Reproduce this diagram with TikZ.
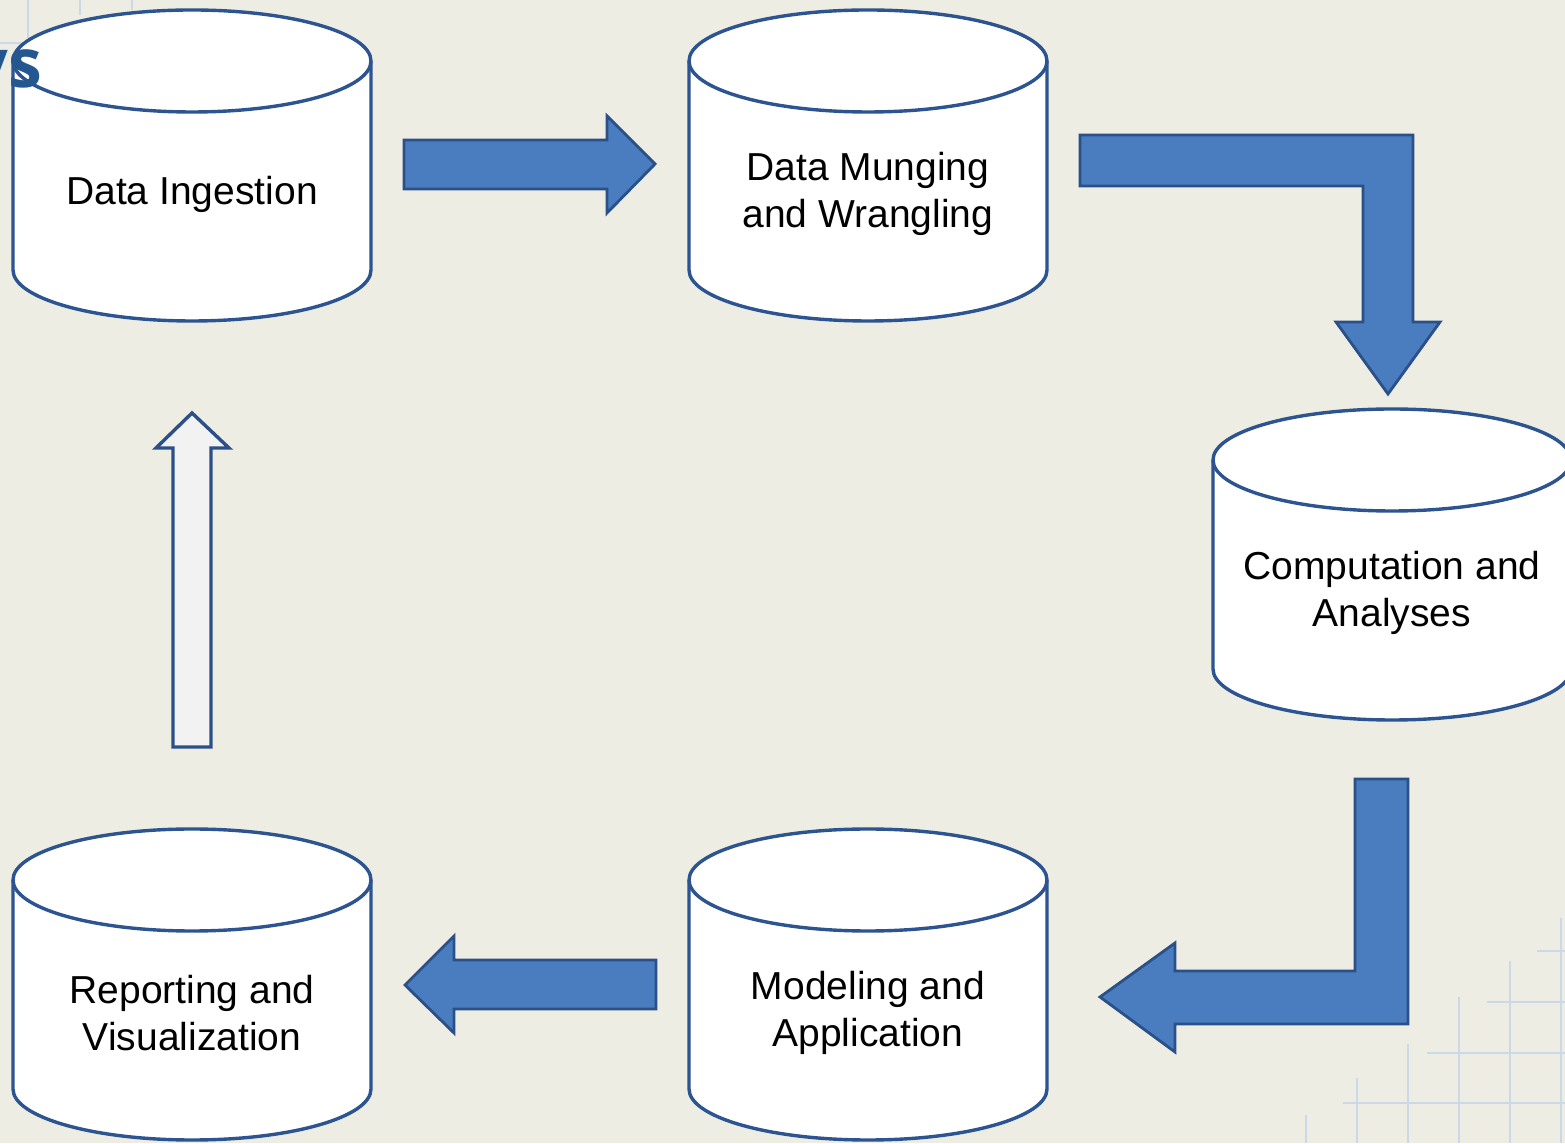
\documentclass[tikz,border=0pt]{standalone}
\usepackage{fontspec}
\setmainfont{Liberation Sans}
\newfontfamily\headfont{Open Sans}
\definecolor{bgc}{HTML}{EEEDE3}
\definecolor{cylc}{HTML}{2C5491}
\definecolor{arrfill}{HTML}{4A7DC0}
\definecolor{arrline}{HTML}{2A5087}
\definecolor{gridc}{HTML}{CAD8E8}
\definecolor{headc}{HTML}{24578F}
\tikzset{
  cylbody/.style={fill=white, draw=cylc, line width=3.4pt, line join=round},
  cylline/.style={draw=cylc, line width=3.4pt},
  cyltext/.style={font=\fontsize{39}{47}\selectfont, align=center, text=black},
  blockarrow/.style={fill=arrfill, draw=arrline, line width=2.8pt, line join=miter},
  hollowarrow/.style={fill=white!95!black, draw=arrline, line width=3.4pt, line join=miter},
  gridline/.style={draw=gridc, line width=1.5pt}
}
% #1 name, #2 left x (px), #3 top y (px, from top), #4 text
\newcommand\dbcyl[4]{%
  \pgfmathsetmacro\cL{#2}%
  \pgfmathsetmacro\cR{#2+358}%
  \pgfmathsetmacro\cT{1143-#3-51}%
  \pgfmathsetmacro\cB{1143-#3-311+51}%
  \pgfmathsetmacro\cX{#2+179}%
  \pgfmathsetmacro\cY{1143-#3-184}%
  \path[cylbody] (\cL,\cT) -- (\cL,\cB)
     arc[start angle=180,end angle=360,x radius=179pt,y radius=51pt]
     -- (\cR,\cT)
     arc[start angle=0,end angle=180,x radius=179pt,y radius=51pt] -- cycle;
  \draw[cylline] (\cL,\cT) arc[start angle=180,end angle=360,x radius=179pt,y radius=51pt];
  \node[cyltext] (#1) at (\cX,\cY) {#4};
}
\begin{document}
\begin{tikzpicture}[x=1pt,y=1pt]
\useasboundingbox (0,0) rectangle (1565,1143);
\fill[bgc] (0,0) rectangle (1565,1143);

% faint grid, top-left
\draw[gridline] (28,1143) -- (28,{1143-38});
\draw[gridline] (80,1143) -- (80,{1143-15});
\draw[gridline] (132,1143) -- (132,{1143-10});
\draw[gridline] (0,{1143-43}) -- (28,{1143-43});
% faint grid, bottom-right
\draw[gridline] (1561,0) -- (1561,{1143-918});
\draw[gridline] (1510,0) -- (1510,{1143-961});
\draw[gridline] (1459,0) -- (1459,{1143-997});
\draw[gridline] (1408,0) -- (1408,{1143-1044});
\draw[gridline] (1357,0) -- (1357,{1143-1078});
\draw[gridline] (1306,0) -- (1306,{1143-1115});
\draw[gridline] (1537,{1143-951}) -- (1565,{1143-951});
\draw[gridline] (1487,{1143-1002}) -- (1565,{1143-1002});
\draw[gridline] (1427,{1143-1053}) -- (1565,{1143-1053});
\draw[gridline] (1343,{1143-1103}) -- (1565,{1143-1103});

% cylinders
\dbcyl{ingest}{13}{10}{Data Ingestion}
\dbcyl{munge}{689}{10}{Data Munging\\and Wrangling}
\dbcyl{compute}{1213}{409}{Computation and\\Analyses}
\dbcyl{model}{689}{829}{Modeling and\\Application}
\dbcyl{report}{13}{829}{Reporting and\\Visualization}

% arrow: ingest -> munge
\path[blockarrow] (404,{1143-140}) -- (607,{1143-140}) -- (607,{1143-116}) -- (655,{1143-164})
  -- (607,{1143-213}) -- (607,{1143-189}) -- (404,{1143-189}) -- cycle;
% bent arrow: munge -> compute
\path[blockarrow] (1080,{1143-135}) -- (1413,{1143-135}) -- (1413,{1143-322}) -- (1440,{1143-322})
  -- (1388,{1143-394}) -- (1336,{1143-322}) -- (1363,{1143-322}) -- (1363,{1143-186})
  -- (1080,{1143-186}) -- cycle;
% bent arrow: compute -> model
\path[blockarrow] (1355,{1143-779}) -- (1408,{1143-779}) -- (1408,{1143-1024}) -- (1175,{1143-1024})
  -- (1175,{1143-1052}) -- (1100,{1143-997}) -- (1175,{1143-943}) -- (1175,{1143-971})
  -- (1355,{1143-971}) -- cycle;
% arrow: model -> report
\path[blockarrow] (656,{1143-960}) -- (454,{1143-960}) -- (454,{1143-936}) -- (405,{1143-985})
  -- (454,{1143-1033}) -- (454,{1143-1009}) -- (656,{1143-1009}) -- cycle;
% hollow arrow: report -> ingest
\path[hollowarrow] (173,{1143-747}) -- (173,{1143-448}) -- (156,{1143-448}) -- (192,{1143-413})
  -- (229,{1143-448}) -- (211,{1143-448}) -- (211,{1143-747}) -- cycle;

% partial title text
\node[anchor=base east, inner sep=0pt, text=headc, font=\headfont\bfseries\fontsize{68}{72}\selectfont] (title) at (42,{1143-88}) {ys};
\end{tikzpicture}
\end{document}
